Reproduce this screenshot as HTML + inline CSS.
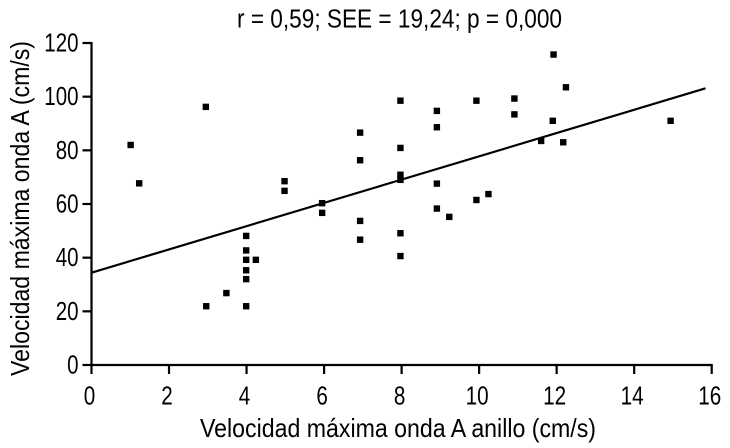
<!DOCTYPE html>
<html lang="es">
<head>
<meta charset="utf-8">
<title>Velocidad máxima onda A</title>
<style>
html,body{margin:0;padding:0;background:#fff;width:730px;height:448px;overflow:hidden}
svg{display:block}
text{font-family:"Liberation Sans",Arial,sans-serif;fill:#000}
</style>
</head>
<body>
<svg id="chart" width="730" height="448" viewBox="0 0 730 448" xmlns="http://www.w3.org/2000/svg">
  <text x="237" y="27.5" font-size="25.5" textLength="325" lengthAdjust="spacingAndGlyphs">r = 0,59; SEE = 19,24; p = 0,000</text>
  <text x="200" y="437" font-size="26" textLength="396" lengthAdjust="spacingAndGlyphs">Velocidad máxima onda A anillo (cm/s)</text>
  <text transform="translate(29,376) rotate(-90)" x="0" y="0" font-size="26" textLength="335" lengthAdjust="spacingAndGlyphs">Velocidad máxima onda A (cm/s)</text>
</svg>
<script>
const xTicks = [0, 2, 4, 6, 8, 10, 12, 14, 16];
const yTicks = [0, 20, 40, 60, 80, 100, 120];
const xValues = [1.01, 1.23, 2.95, 2.96, 3.48, 3.99, 3.99, 3.99, 4.24, 3.99, 3.99, 3.99, 4.98, 4.98, 5.95, 5.95, 6.93, 6.93, 6.93, 6.93, 7.97, 7.97, 7.97, 7.97, 7.97, 7.97, 8.91, 8.91, 8.91, 8.91, 9.23, 9.93, 9.93, 10.24, 10.91, 10.91, 11.6, 11.9, 11.92, 12.17, 12.24, 14.94];
const yValues = [82, 67.7, 96.2, 21.9, 26.8, 48.1, 42.7, 39.2, 39.2, 35.3, 32, 21.9, 68.5, 64.9, 60.3, 56.7, 86.6, 76.3, 53.7, 46.7, 98.5, 80.9, 70.9, 69, 49.1, 40.6, 94.7, 88.6, 67.6, 58.3, 55.2, 98.5, 61.5, 63.7, 99.3, 93.4, 83.5, 91, 115.7, 83, 103.5, 91];
const fitX = [0, 15.84];
const fitY = [34.4, 103.1];

const SVG_NS = 'http://www.w3.org/2000/svg';
const chart = document.getElementById('chart');
const xScale = v => 91.5 + v * (711.7 - 91.5) / 16;
const yScale = v => 365 - v * (365 - 43) / 120;

function make(tag, attrs) {
  const el = document.createElementNS(SVG_NS, tag);
  for (const k in attrs) el.setAttribute(k, attrs[k]);
  chart.appendChild(el);
  return el;
}

const stroke = { stroke: '#000', 'stroke-width': 2.2 };

const yAxis = make('line', { x1: xScale(0), x2: xScale(0), y1: yScale(120) - 1, y2: yScale(0) + 1, ...stroke });



const xAxis = make('line', { x1: xScale(0) - 1, x2: xScale(16) + 1, y1: yScale(0), y2: yScale(0), ...stroke });



xTicks.forEach(t => {
  const tick = make('line', { x1: xScale(t), x2: xScale(t), y1: yScale(0), y2: yScale(0) + 9, ...stroke });
  
  
  const s = String(t);
  const w = s.length * 11.5;
  const label = make('text', { x: xScale(t) - 2 - w / 2, y: 404.5, 'font-size': 26, textLength: w, lengthAdjust: 'spacingAndGlyphs' });
  label.textContent = s;
  
  
});

yTicks.forEach(t => {
  const tick = make('line', { x1: xScale(0) - 9, x2: xScale(0), y1: yScale(t), y2: yScale(t), ...stroke });
  
  
  const s = String(t);
  const w = s.length * 11.4;
  const label = make('text', { x: 78.5 - w, y: yScale(t) + 8.5, 'font-size': 26, textLength: w, lengthAdjust: 'spacingAndGlyphs' });
  label.textContent = s;
  
  
});

const fitLine = make('line', { x1: xScale(fitX[0]), y1: yScale(fitY[0]), x2: xScale(fitX[1]), y2: yScale(fitY[1]), stroke: '#000', 'stroke-width': 2.2 });



xValues.forEach((x, i) => {
  const p = make('rect', { x: xScale(x) - 3.2, y: yScale(yValues[i]) - 3.2, width: 6.4, height: 6.4, fill: '#000' });
  
  
});
</script>
</body>
</html>
